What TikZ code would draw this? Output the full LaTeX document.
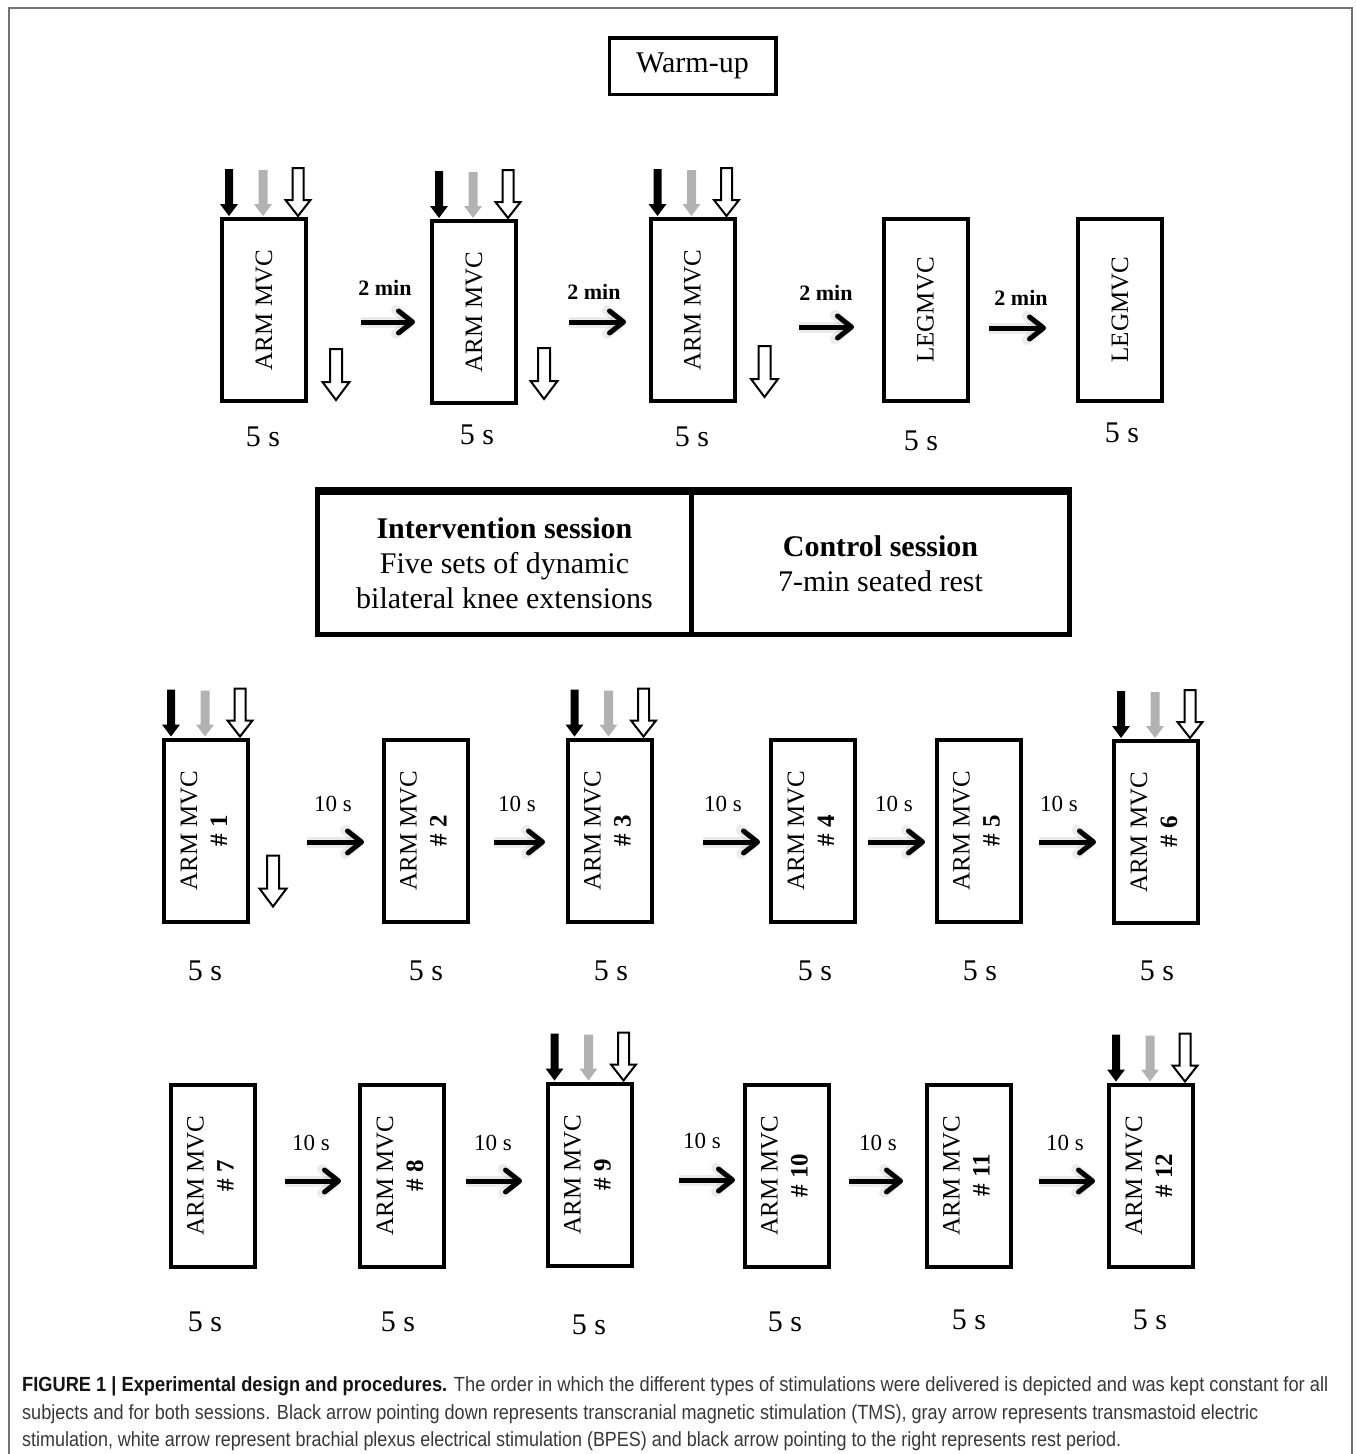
\documentclass[tikz,border=0pt]{standalone}
\usepackage{fontspec}
\setmainfont{Liberation Serif}
\newfontfamily\capfont{Liberation Sans}
\usetikzlibrary{arrows.meta,calc}
\newcommand\twol[1]{\rotatebox{90}{\begin{tabular}{@{}c@{}}ARM MVC\\\textbf{\# #1}\end{tabular}}}
\newcommand\stimset[1]{%
  \pic at ($(#1.north west)+(9,-1)$) {tmsarrow};
  \pic at ($(#1.north west)+(43,-1)$) {tmaarrow};
  \pic at ($(#1.north west)+(78,-1)$) {bpesarrow};}
\tikzset{
  pics/tmsarrow/.style={code={\fill[black] (-4,-47) -- (-4,-12) -- (-9,-12) -- (0,0) -- (9,-12) -- (4,-12) -- (4,-47) -- cycle;}},
  pics/tmaarrow/.style={code={\fill[black!30] (-4.5,-46) -- (-4.5,-12) -- (-9,-12) -- (0,0) -- (9,-12) -- (4.5,-12) -- (4.5,-46) -- cycle;}},
  pics/bpesarrow/.style={code={\filldraw[fill=white,draw=black,line width=2pt] (-5.5,-48) -- (-5.5,-16) -- (-12.5,-16) -- (0,0) -- (12.5,-16) -- (5.5,-16) -- (5.5,-48) -- cycle;}},
  pics/bpesside/.style={code={\filldraw[fill=white,draw=black,line width=2pt] (-6,-51) -- (-6,-18) -- (-13.5,-18) -- (0,0) -- (13.5,-18) -- (6,-18) -- (6,-51) -- cycle;}},
}
\begin{document}
\begin{tikzpicture}[x=1pt,y=-1pt,
  mvc/.style={draw, line width=4pt, minimum width=84pt, minimum height=182pt, inner sep=0pt, font=\fontsize{25}{30}\selectfont},
  sess/.style={draw, line width=5pt, minimum height=142pt, inner sep=0pt, align=center, font=\fontsize{30}{35}\selectfont},
  rest/.style={line width=5pt, -{Straight Barb[length=14pt,width=22pt,line width=5pt 0,round]},
    preaction={draw, black, opacity=0.08, line width=11pt, -{Straight Barb[length=14pt,width=24pt,line width=10pt 0,round]}}},
  dur/.style={inner sep=0pt, font=\fontsize{30}{32}\selectfont},
  gap/.style={inner sep=0pt, font=\fontsize{23}{25}\selectfont},
  mins/.style={inner sep=0pt, font=\bfseries\fontsize{22}{24}\selectfont},
  capline/.style={anchor=base west, inner sep=0pt, text=black!78}
]
\useasboundingbox (0,0) rectangle (1355,1454);
% outer frame
\draw[black!55, line width=2.5pt] (9,1460) -- (9,8) -- (1352,8) -- (1352,1460);

% warm-up
\node[draw, line width=3.5pt, minimum width=166.5pt, minimum height=56.5pt, inner sep=0pt, font=\fontsize{30}{36}\selectfont] (wu) at (692.5,66) {Warm-up};

% row 1
\node[mvc] (a1) at (264,310) {\rotatebox{90}{ARM MVC}};
\node[mvc] (a2) at (474,312) {\rotatebox{90}{ARM MVC}};
\node[mvc] (a3) at (692.5,310) {\rotatebox{90}{ARM MVC}};
\node[mvc] (l1) at (925.5,310) {\rotatebox{90}{LEGMVC}};
\node[mvc] (l2) at (1120,309.5) {\rotatebox{90}{LEGMVC}};
\stimset{a1}\stimset{a2}\stimset{a3}
\pic at ($(a1.south east)+(28,-3)$) {bpesside};
\pic at ($(a2.south east)+(26,-6)$) {bpesside};
\pic at ($(a3.south east)+(28,-6)$) {bpesside};
\node[mins] (m1) at (385,288) {2 min};
\node[mins] (m2) at (594,292) {2 min};
\node[mins] (m3) at (826,293) {2 min};
\node[mins] (m4) at (1021,298) {2 min};
\draw[rest] ($(a1.east)+(53,12)$) -- ($(a2.west)+(-15,10)$);
\draw[rest] ($(a2.east)+(51,10)$) -- ($(a3.west)+(-22.5,12)$);
\draw[rest] ($(a3.east)+(62.5,17)$) -- ($(l1.west)+(-27.5,17)$);
\draw[rest] ($(l1.east)+(19.5,18)$) -- ($(l2.west)+(-30,18.5)$);
\node[dur] (da1) at (263,437) {5 s};
\node[dur] (da2) at (477,435) {5 s};
\node[dur] (da3) at (692,437) {5 s};
\node[dur] (dl1) at (921,441) {5 s};
\node[dur] (dl2) at (1122,433) {5 s};

% sessions
\node[sess, minimum width=374pt] (int) at (504.5,563.5) {\textbf{Intervention session}\\Five sets of dynamic\\bilateral knee extensions};
\node[sess, minimum width=378pt] (ctl) at (880.5,563.5) {\textbf{Control session}\\7-min seated rest};
\draw[line width=3pt] ($(int.north west)+(0,-1.5)$) -- ($(ctl.north east)+(0,-1.5)$);

% row 2
\node[mvc] (b1) at (206,830.5) {\twol{1}};
\node[mvc] (b2) at (425.5,830.5) {\twol{2}};
\node[mvc] (b3) at (609.5,830.5) {\twol{3}};
\node[mvc] (b4) at (813,830.5) {\twol{4}};
\node[mvc] (b5) at (978.5,830.5) {\twol{5}};
\node[mvc] (b6) at (1156,832) {\twol{6}};
\stimset{b1}\stimset{b3}\stimset{b6}
\pic at ($(b1.south east)+(23,-17)$) {bpesside};
\node[gap] (g1) at (333,804) {10 s};
\node[gap] (g2) at (517,804) {10 s};
\node[gap] (g3) at (723,804) {10 s};
\node[gap] (g4) at (894,804) {10 s};
\node[gap] (g5) at (1059,804) {10 s};
\draw[rest] ($(b1.east)+(57,11.5)$) -- ($(b2.west)+(-17.5,11.5)$);
\draw[rest] ($(b2.east)+(24.5,11.5)$) -- ($(b3.west)+(-20.5,11.5)$);
\draw[rest] ($(b3.east)+(49.5,11.5)$) -- ($(b4.west)+(-9,11.5)$);
\draw[rest] ($(b4.east)+(11,11.5)$) -- ($(b5.west)+(-9.5,11.5)$);
\draw[rest] ($(b5.east)+(16.5,11.5)$) -- ($(b6.west)+(-16,10)$);
\node[dur] (db1) at (205,971) {5 s};
\node[dur] (db2) at (426,971) {5 s};
\node[dur] (db3) at (611,971) {5 s};
\node[dur] (db4) at (815,971) {5 s};
\node[dur] (db5) at (980,971) {5 s};
\node[dur] (db6) at (1157,971) {5 s};

% row 3
\node[mvc] (c1) at (212.5,1175.5) {\twol{7}};
\node[mvc] (c2) at (402,1175.5) {\twol{8}};
\node[mvc] (c3) at (589.5,1174.5) {\twol{9}};
\node[mvc] (c4) at (786.5,1175.5) {\twol{10}};
\node[mvc] (c5) at (968.5,1175.5) {\twol{11}};
\node[mvc] (c6) at (1151,1175.5) {\twol{12}};
\stimset{c3}\stimset{c6}
\node[gap] (h1) at (311,1143) {10 s};
\node[gap] (h2) at (493,1143) {10 s};
\node[gap] (h3) at (702,1141) {10 s};
\node[gap] (h4) at (878,1143) {10 s};
\node[gap] (h5) at (1065,1143) {10 s};
\draw[rest] ($(c1.east)+(28.5,5.5)$) -- ($(c2.west)+(-17,5.5)$);
\draw[rest] ($(c2.east)+(20,5.5)$) -- ($(c3.west)+(-23.5,6.5)$);
\draw[rest] ($(c3.east)+(45.5,5.5)$) -- ($(c4.west)+(-7.5,4.5)$);
\draw[rest] ($(c4.east)+(18.5,5.5)$) -- ($(c5.west)+(-21.5,5.5)$);
\draw[rest] ($(c5.east)+(26.5,5.5)$) -- ($(c6.west)+(-12,5.5)$);
\node[dur] (dc1) at (205,1322) {5 s};
\node[dur] (dc2) at (398,1322) {5 s};
\node[dur] (dc3) at (589,1325) {5 s};
\node[dur] (dc4) at (785,1322) {5 s};
\node[dur] (dc5) at (969,1320) {5 s};
\node[dur] (dc6) at (1150,1320) {5 s};

% caption
\node[capline] (cap1) at (22,1391) {\capfont\fontsize{20.5}{23}\selectfont\resizebox{1306pt}{\height}{\textcolor{black!92}{\bfseries FIGURE 1 | Experimental design and procedures.} The order in which the different types of stimulations were delivered is depicted and was kept constant for all}};
\node[capline] (cap2) at (22,1419) {\capfont\fontsize{20.5}{23}\selectfont\resizebox{1236pt}{\height}{subjects and for both sessions. Black arrow pointing down represents transcranial magnetic stimulation (TMS), gray arrow represents transmastoid electric}};
\node[capline] (cap3) at (22,1446) {\capfont\fontsize{20.5}{23}\selectfont\resizebox{1099pt}{\height}{stimulation, white arrow represent brachial plexus electrical stimulation (BPES) and black arrow pointing to the right represents rest period.}};
\end{tikzpicture}
\end{document}
